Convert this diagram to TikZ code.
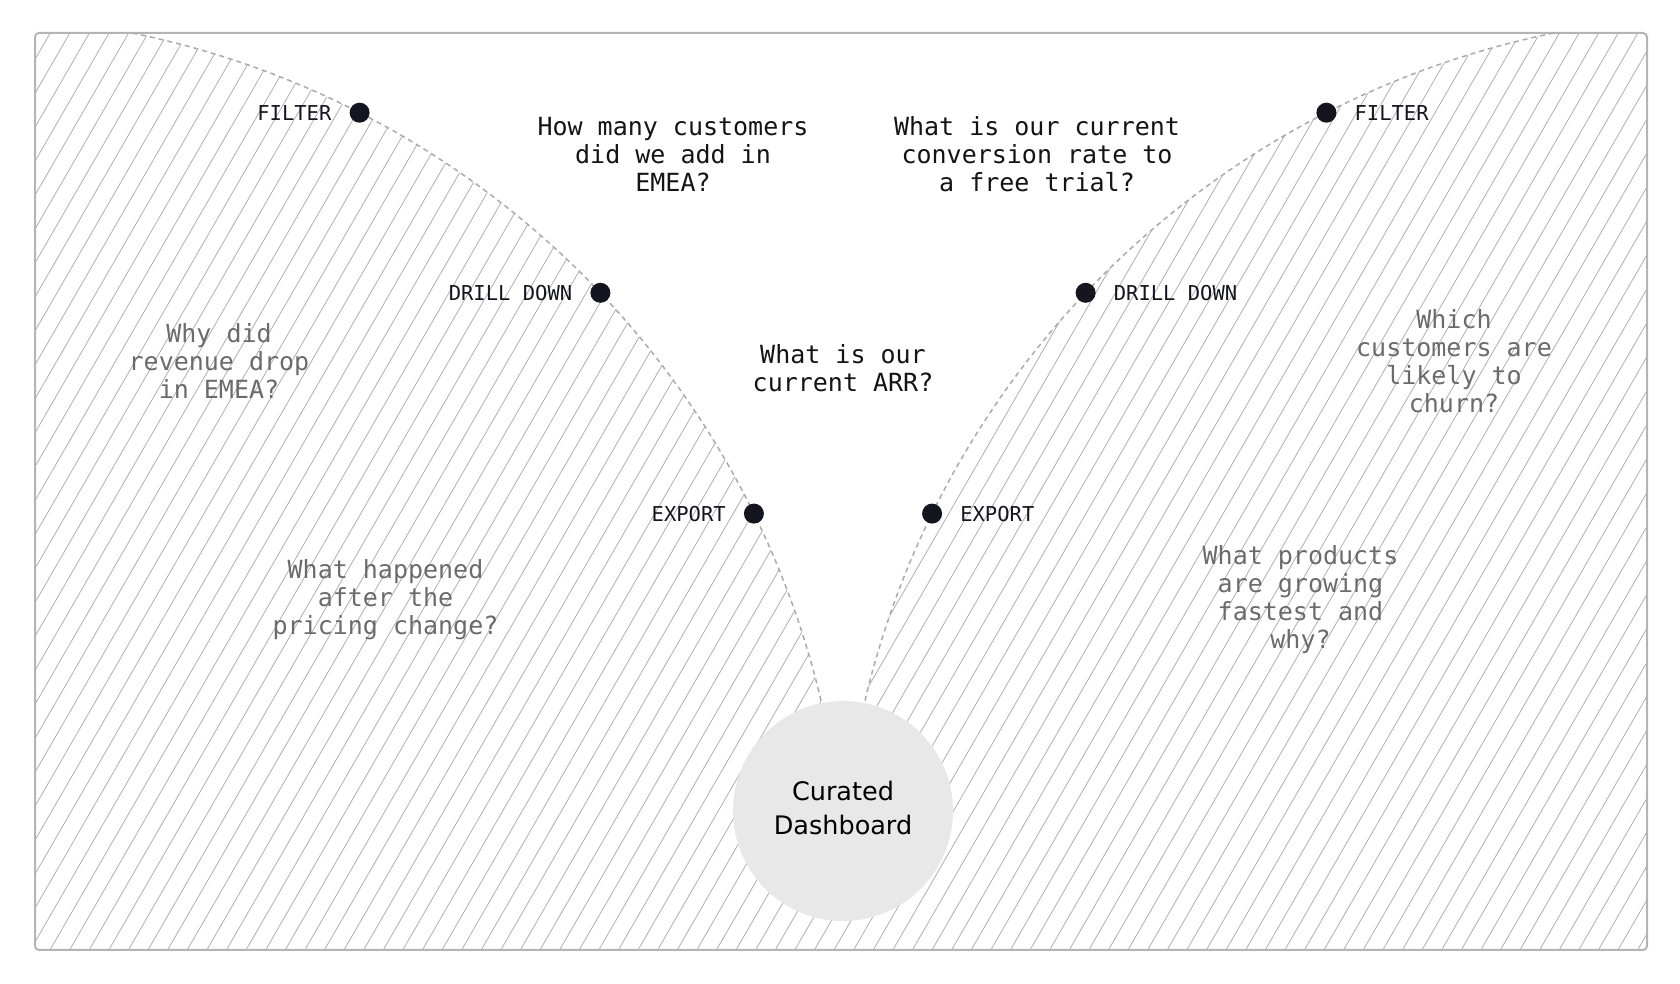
\documentclass[tikz,border=0pt]{standalone}
\usepackage{fontspec}
\usetikzlibrary{calc,positioning}

\newfontfamily\qfont{DejaVu Sans Mono}
\newfontfamily\hubfont{DejaVu Sans}

\definecolor{ink}{HTML}{15151F}
\definecolor{asktext}{HTML}{141414}
\definecolor{softtext}{HTML}{6B6B6B}
\definecolor{hatchgray}{HTML}{ABABAB}
\definecolor{trailgray}{HTML}{ABABAB}
\definecolor{framegray}{HTML}{B4B4B4}
\definecolor{hubfill}{HTML}{E8E8E8}

\begin{document}
\begin{tikzpicture}[x=1pt, y=1pt,
    dot/.style={circle, fill=ink, minimum size=20pt, inner sep=0pt, outer sep=0pt},
    every label/.style={font=\qfont\fontsize{20.5}{24}\selectfont, text=ink, inner sep=0pt},
    label distance=18pt,
    ask/.style={font=\qfont\fontsize{25}{28}\selectfont, align=center, text=asktext, inner sep=0pt},
    askfaint/.style={ask, text=softtext},
    trail/.style={draw=trailgray, line width=1.5pt, dash pattern=on 5pt off 4pt},
    hatch/.style={draw=hatchgray, line width=0.75pt}]

  \useasboundingbox (0,0) rectangle (1680,984);

  \coordinate (lc) at (-46,78);
  \coordinate (rc) at (1732,78);
  \coordinate (ltop) at ($(lc)+(78.46:891)$);
  \coordinate (rtop) at ($(rc)+(101.54:891)$);

  % hatched card, white funnel cut out
  \begin{scope}
    \clip[rounded corners=4pt] (35,34) rectangle (1647,951);
    \foreach \k in {-28,...,82}
      \draw[hatch] ({50+19.6*\k},34) -- ++(60:1070);
    \clip (0,0) rectangle (1680,949);
    \fill[white] (ltop) arc[start angle=78.46, end angle=3.84, radius=891]
      arc[start angle=176.16, end angle=101.54, radius=891] -- cycle;
  \end{scope}
  \draw[framegray, line width=2pt, rounded corners=4pt] (35,34) rectangle (1647,951);

  \draw[trail] (ltop) arc[start angle=78.46, end angle=3.84, radius=891];
  \draw[trail] (rtop) arc[start angle=101.54, end angle=176.16, radius=891];

  \node[dot, label=left:FILTER] (lfilter) at ($(lc)+(62.92:891)$) {};
  \node[dot, label=left:DRILL DOWN] (ldrill) at ($(lc)+(43.49:891)$) {};
  \node[dot, label=left:EXPORT] (lexport) at ($(lc)+(26.13:891)$) {};
  \node[dot, label=right:FILTER] (rfilter) at ($(rc)+(117.08:891)$) {};
  \node[dot, label=right:DRILL DOWN] (rdrill) at ($(rc)+(136.51:891)$) {};
  \node[dot, label=right:EXPORT] (rexport) at ($(rc)+(153.87:891)$) {};

  \node[circle, fill=hubfill, minimum size=220pt, inner sep=0pt] (hub) at (843,173) {};
  \node[align=center, inner sep=0pt, font=\hubfont\fontsize{25.5}{34}\selectfont]
    (hubtext) at ([yshift=3pt]hub.center) {Curated\\Dashboard};

  \node[ask] (qemea) at (673,830) {How many customers\\did we add in\\EMEA?};
  \node[ask] (qtrial) at (1037,830) {What is our current\\conversion rate to\\a free trial?};
  \node[ask] (qarr) at (843,616) {What is our\\current ARR?};

  \node[askfaint] (qdrop) at (219,623) {Why did\\revenue drop\\in EMEA?};
  \node[askfaint] (qprice) at (385.5,384.5) {What happened\\after the\\pricing change?};
  \node[askfaint] (qchurn) at (1454,623) {Which\\customers are\\likely to\\churn?};
  \node[askfaint] (qgrow) at (1300.5,384.5) {What products\\are growing\\fastest and\\why?};

\end{tikzpicture}
\end{document}
